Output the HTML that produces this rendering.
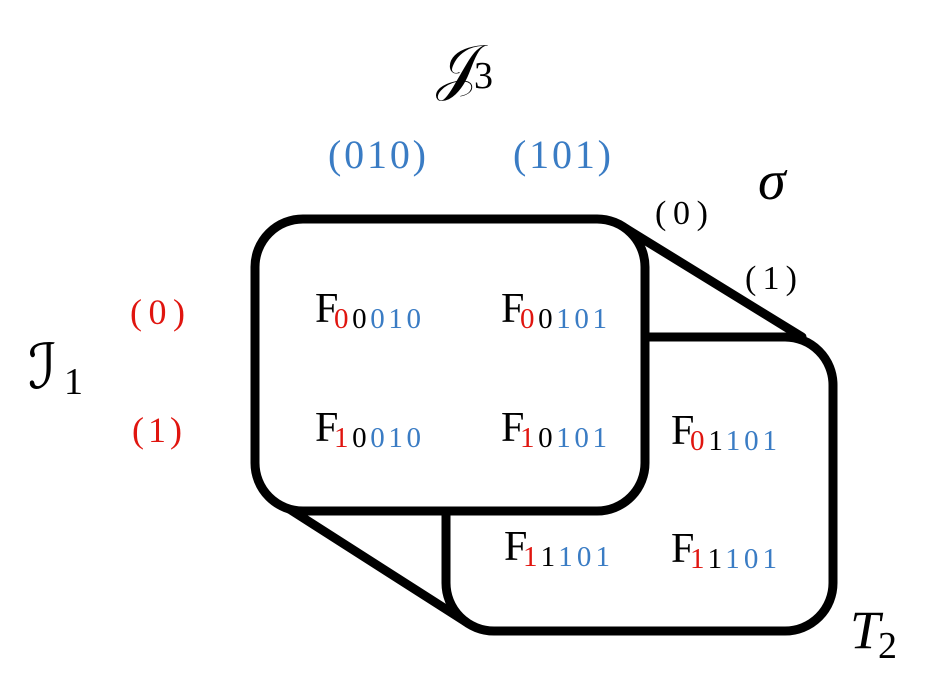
<!DOCTYPE html>
<html><head><meta charset="utf-8"><style>
html,body{margin:0;padding:0;background:#fff;}
svg{display:block}
text{font-family:"Liberation Serif",serif;}
</style></head><body>
<svg width="946" height="681" viewBox="0 0 946 681" xmlns="http://www.w3.org/2000/svg">
<g stroke="#000" stroke-width="9" fill="#fff" stroke-linejoin="round" stroke-linecap="round">
<rect x="446" y="337" width="387" height="294" rx="48"/>
<line x1="625" y1="228" x2="802" y2="337"/>
<line x1="283" y1="505" x2="466" y2="622"/>
<rect x="255" y="219" width="390" height="292" rx="48"/>
</g>
<g font-size="40" fill="#3a7cc4">
<text x="328" y="168" textLength="98" lengthAdjust="spacing">(010)</text>
<text x="513" y="168" textLength="98" lengthAdjust="spacing">(101)</text>
</g>
<g font-size="36" fill="#e0150f">
<text x="130" y="324" textLength="55" lengthAdjust="spacing">(0)</text>
<text x="132" y="442" textLength="50" lengthAdjust="spacing">(1)</text>
</g>
<g font-size="34" fill="#000">
<text x="655" y="224" textLength="53" lengthAdjust="spacing">(0)</text>
<text x="745" y="289" textLength="52" lengthAdjust="spacing">(1)</text>
</g>
<g fill="#000">
<text x="436" y="88" font-size="62" font-family="DejaVu Serif,serif">𝒥</text><text x="474" y="88" font-size="38">3</text>
<text x="758" y="199" font-size="56" font-style="italic">σ</text>
<text x="28" y="388" font-size="62" font-family="DejaVu Serif,serif">ℐ</text><text x="64" y="394" font-size="38">1</text>
<text x="850" y="648" font-size="54" font-style="italic">T</text><text x="878" y="658" font-size="38">2</text>
</g>
<g font-size="42">
<text x="315" y="322">F</text><text y="328" x="334" font-size="29" textLength="87" lengthAdjust="spacing"><tspan fill="#e0150f">0</tspan><tspan>0</tspan><tspan fill="#3a7cc4">010</tspan></text>
<text x="501" y="322">F</text><text y="328" x="520" font-size="29" textLength="87" lengthAdjust="spacing"><tspan fill="#e0150f">0</tspan><tspan>0</tspan><tspan fill="#3a7cc4">101</tspan></text>
<text x="315" y="441">F</text><text y="447" x="334" font-size="29" textLength="87" lengthAdjust="spacing"><tspan fill="#e0150f">1</tspan><tspan>0</tspan><tspan fill="#3a7cc4">010</tspan></text>
<text x="501" y="441">F</text><text y="447" x="520" font-size="29" textLength="87" lengthAdjust="spacing"><tspan fill="#e0150f">1</tspan><tspan>0</tspan><tspan fill="#3a7cc4">101</tspan></text>
<text x="671" y="444">F</text><text y="450" x="690" font-size="29" textLength="87" lengthAdjust="spacing"><tspan fill="#e0150f">0</tspan><tspan>1</tspan><tspan fill="#3a7cc4">101</tspan></text>
<text x="504" y="560">F</text><text y="566" x="523" font-size="29" textLength="87" lengthAdjust="spacing"><tspan fill="#e0150f">1</tspan><tspan>1</tspan><tspan fill="#3a7cc4">101</tspan></text>
<text x="671" y="562">F</text><text y="568" x="690" font-size="29" textLength="87" lengthAdjust="spacing"><tspan fill="#e0150f">1</tspan><tspan>1</tspan><tspan fill="#3a7cc4">101</tspan></text>
</g>
</svg>
</body></html>
